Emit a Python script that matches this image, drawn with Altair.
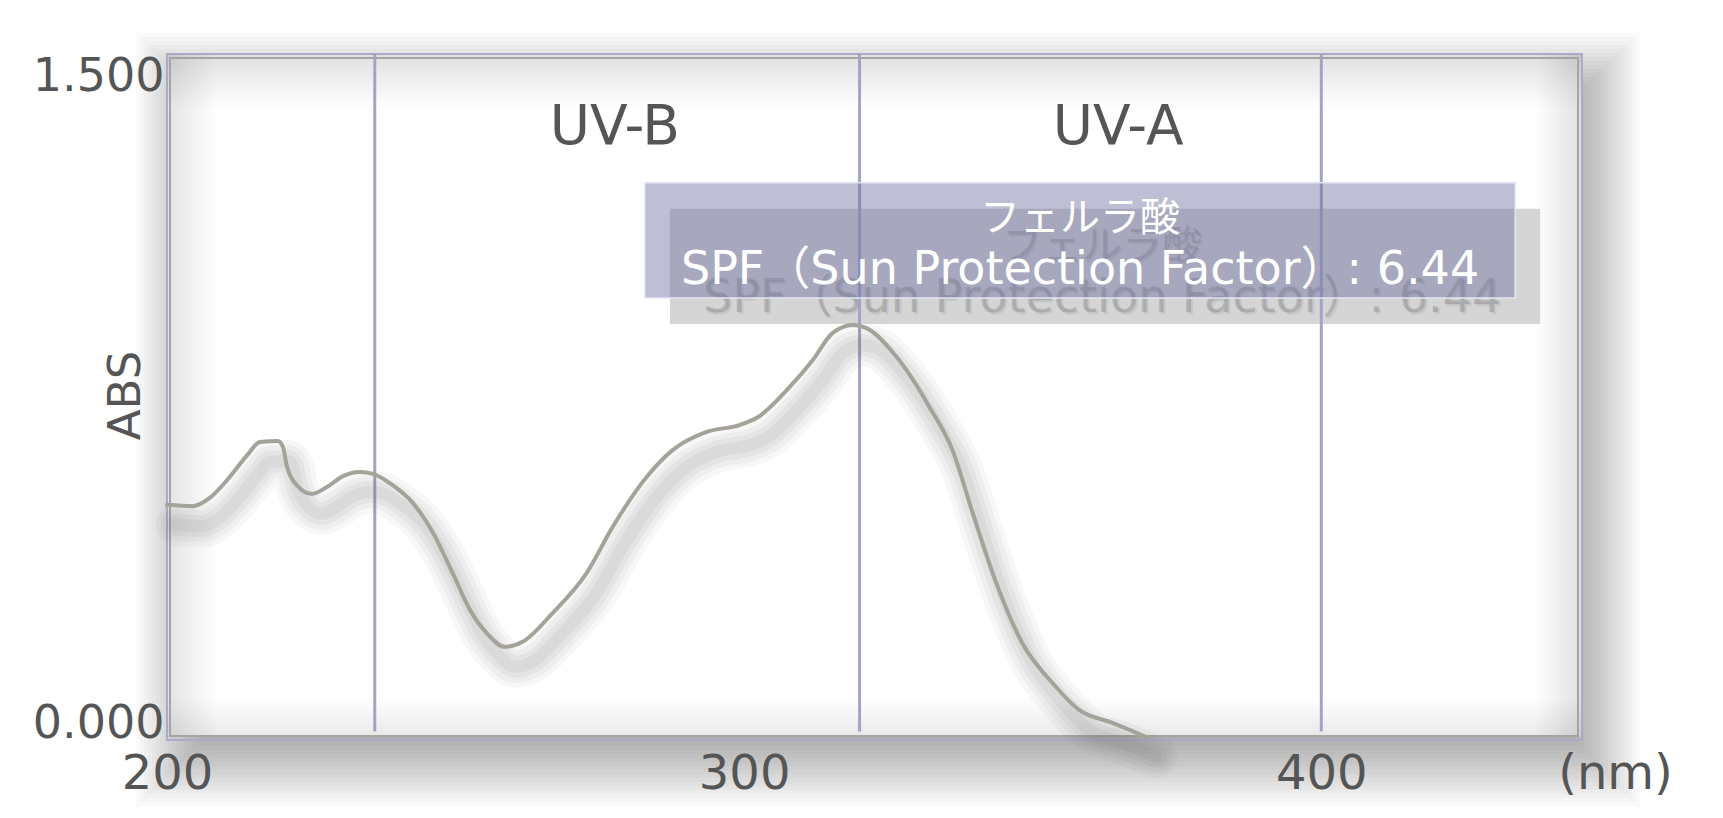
import altair as alt
import pandas as pd

# Absorption spectrum of ferulic acid (wavelength in nm, absorbance)
wavelength = [200.0, 204.5, 207.4, 210.4, 213.9, 216.1, 219.2, 220.1, 220.8, 222.5,
              225.1, 227.7, 230.5, 233.4, 235.7, 239.1, 242.6, 246.1, 249.5, 252.5,
              255.4, 258.5, 261.6, 266.8, 272.7, 277.2, 283.1, 287.6, 293.5, 299.2,
              302.2, 307.9, 311.9, 315.3, 318.8, 321.2, 326.4, 332.1, 336.1, 339.6,
              343.7, 348.2, 353.4, 358.1, 363.8, 369.7]
absorbance = [0.510, 0.507, 0.525, 0.564, 0.619, 0.648, 0.650, 0.637, 0.593, 0.553,
              0.534, 0.549, 0.573, 0.582, 0.578, 0.553, 0.514, 0.448, 0.360, 0.279,
              0.228, 0.198, 0.209, 0.272, 0.360, 0.461, 0.571, 0.630, 0.670, 0.685,
              0.701, 0.769, 0.828, 0.887, 0.905, 0.898, 0.835, 0.725, 0.630, 0.492,
              0.338, 0.206, 0.119, 0.059, 0.031, 0.000]

# Band boundaries and band names
band_edges = [236, 320, 400]
band_names = ["UV-B", "UV-A"]
band_name_nm = [277.6, 364.8]
band_name_abs = 1.34

# Annotation box
note_title = "フェルラ酸"
note_body = "SPF（Sun Protection Factor）: 6.44"
note_nm = 358.2
note_abs = [1.138, 1.026]
note_box = {"nm0": 282.8, "nm1": 433.6, "top": 1.217, "bottom": 0.964}

x_ticks = [200, 300, 400]
y_ticks = [0, 1.5]

W, H = 1414, 683
X_DOMAIN = [200, 445]
Y_DOMAIN = [0, 1.5]
PX_NM = W / (X_DOMAIN[1] - X_DOMAIN[0])
PX_ABS = H / (Y_DOMAIN[1] - Y_DOMAIN[0])

FONT = "DejaVu Sans, Noto Sans CJK JP"
CJK = "Noto Sans CJK JP, DejaVu Sans"
TXT = "#555555"

xs = alt.Scale(domain=X_DOMAIN, nice=False, zero=False)
ys = alt.Scale(domain=Y_DOMAIN, nice=False, zero=False)

# One axis definition shared by every layer so the layered axes merge cleanly
X_AXIS = alt.Axis(
    values=x_ticks, format="d", labelFont=FONT, labelFontSize=48, labelColor=TXT,
    labelPadding=13, labelFlush=False, domain=False, ticks=False, grid=False,
    zindex=1, title="(nm)", titleFont=FONT, titleFontSize=48,
    titleFontWeight="normal", titleColor=TXT, titleX=1448, titleY=51,
    titleAlign="center", titleBaseline="alphabetic")
Y_AXIS = alt.Axis(
    values=y_ticks, format=".3f", labelFont=FONT, labelFontSize=46, labelColor=TXT,
    labelBaseline={"condition": {"test": "datum.value > 1", "value": "top"},
                   "value": "alphabetic"},
    labelPadding=3, labelFlush=False, domain=False, ticks=False, grid=False, zindex=1,
    title="ABS", titleFont=FONT, titleFontSize=45, titleFontWeight="normal",
    titleColor=TXT, titleX=-42, titleY=341, titleAngle=270, titleAlign="center",
    titleBaseline="middle")


def X(field):
    return alt.X(field, type="quantitative", scale=xs, axis=X_AXIS)


def Y(field):
    return alt.Y(field, type="quantitative", scale=ys, axis=Y_AXIS)


deco = pd.DataFrame({"k": [0]})


def box_px(x, x2, y, y2, **mark):
    """Decorative rectangle placed in pixels of the plot area."""
    return alt.Chart(deco).mark_rect(**mark).encode(
        x=alt.value(x), x2=alt.value(x2), y=alt.value(y), y2=alt.value(y2))


def shade(x, x2, y, y2, gx1, gy1, gx2, gy2, alpha):
    """Soft gradient strip for the frame's inner vignette."""
    g = alt.LinearGradient(
        gradient="linear", x1=gx1, y1=gy1, x2=gx2, y2=gy2,
        stops=[alt.GradientStop(offset=0, color=f"rgba(0,0,0,{alpha})"),
               alt.GradientStop(offset=1, color="rgba(0,0,0,0)")])
    return box_px(x, x2, y, y2, fill=g)


# blurred drop shadow of the frame: stacked translucent rectangles
SH_DX, SH_DY = 14, 24
frame_shadow = [
    box_px(SH_DX - e, W + SH_DX + e, SH_DY - e, H + SH_DY + e, fill="black", opacity=0.018)
    for e in range(45, -27, -4)
]
plot_bg = box_px(0, W, 0, H, fill="white")

# inner vignette along the frame's edges
inner = [
    shade(0, W, 0, 55, 0, 0, 0, 1, 0.12),
    shade(0, 50, 0, H, 0, 0, 1, 0, 0.11),
    shade(W - 45, W, 0, H, 1, 0, 0, 0, 0.12),
    shade(0, W, H - 40, H, 0, 1, 0, 0, 0.09),
]

frame_outer = box_px(0, W + 1, 0, H + 3, fillOpacity=0, stroke="#aaaacb", strokeWidth=2)
frame_inner = box_px(3, W - 3, 4, H - 1, fillOpacity=0, stroke="#a6a6a0", strokeWidth=2)

# note box drop shadow
sdx, sdy = 25 / PX_NM, 26 / PX_ABS
box_df = pd.DataFrame([note_box])
box_shadow = alt.Chart(box_df).transform_calculate(
    a=f"datum.nm0 + {sdx}", b=f"datum.nm1 + {sdx}",
    t=f"datum.top - {sdy}", u=f"datum.bottom - {sdy}",
).mark_rect(fill="#d5d5d5").encode(x=X("a"), x2="b:Q", y=Y("t"), y2="u:Q")

note_df = pd.DataFrame({"text": [note_title, note_body], "nm": note_nm, "abs": note_abs})


def note_text(i, size, color, opacity=1.0, dx=0, dy=0, font=FONT):
    return alt.Chart(note_df.iloc[[i]]).mark_text(
        fontSize=size, font=font, color=color, opacity=opacity, dx=dx, dy=dy,
        align="center", baseline="middle").encode(x=X("nm"), y=Y("abs"), text="text:N")


TITLE_SIZE, BODY_SIZE = 40, 46
text_shadows = [
    note_text(0, TITLE_SIZE, "#8a8a8e", 0.45, 22, 28, CJK),
    note_text(1, BODY_SIZE, "#8a8a8e", 0.45, 22, 28),
    note_text(0, TITLE_SIZE, "#8a8a8e", 0.2, 24, 30, CJK),
    note_text(1, BODY_SIZE, "#8a8a8e", 0.2, 24, 30),
]

rules = alt.Chart(pd.DataFrame({"nm": band_edges})).transform_calculate(
    top="1.5", bottom="0.012").mark_rule(color="#a3a3c6", strokeWidth=3).encode(
    x=X("nm"), y=Y("top"), y2="bottom:Q")

spec = alt.Chart(pd.DataFrame({"nm": wavelength, "abs": absorbance}))

# blurred shadow under the spectrum line
cdx, cdy = 10 / PX_NM, 20 / PX_ABS
curve_shadow = [
    spec.transform_calculate(sx=f"datum.nm + {cdx}", sy=f"datum.abs - {cdy}").mark_line(
        color="#6a6a6a", strokeWidth=w, opacity=o, interpolate="monotone",
        strokeJoin="round", strokeCap="round").encode(x=X("sx"), y=Y("sy"))
    for w, o in [(42, 0.05), (32, 0.06), (22, 0.07), (12, 0.08)]
]

curve = spec.mark_line(color="#a4a299", strokeWidth=4, interpolate="monotone",
                       strokeJoin="round", strokeCap="round").encode(x=X("nm"), y=Y("abs"))

box = alt.Chart(box_df).mark_rect(
    fill="#6e70a0", fillOpacity=0.45, stroke="#e2e6f2", strokeWidth=1.5).encode(
    x=X("nm0"), x2="nm1:Q", y=Y("top"), y2="bottom:Q")

note_texts = [note_text(0, TITLE_SIZE, "white", font=CJK), note_text(1, BODY_SIZE, "white")]

bands = alt.Chart(pd.DataFrame({"name": band_names, "nm": band_name_nm})).transform_calculate(
    a=str(band_name_abs)).mark_text(
    fontSize=55, font=FONT, color=TXT, align="center", baseline="middle").encode(
    x=X("nm"), y=Y("a"), text="name:N")

chart = alt.layer(
    *frame_shadow, plot_bg, *inner, frame_inner, frame_outer,
    box_shadow, *text_shadows, rules, *curve_shadow, curve, box, *note_texts, bands,
).properties(
    width=W, height=H,
    padding={"left": 167, "top": 54, "right": 1723 - 167 - W, "bottom": 818 - 54 - H},
    autosize=alt.AutoSizeParams(type="none"),
    background="white",
).configure_view(strokeWidth=0)

chart.save("out.html", embed_options={"renderer": "svg", "actions": False})
